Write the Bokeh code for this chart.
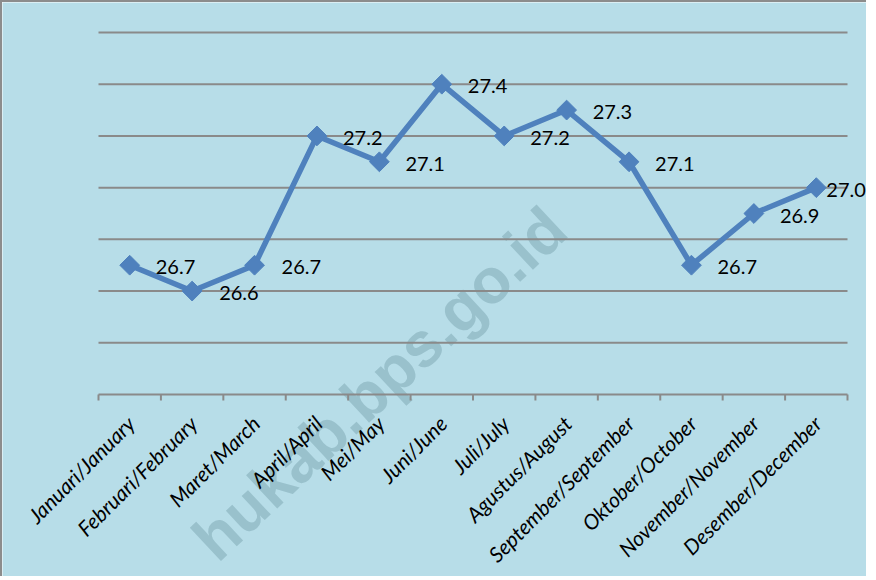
import numpy as np
from bokeh.plotting import figure
from bokeh.models import Range1d, Label, ColumnDataSource
from bokeh.core.properties import value
from bokeh.embed import file_html
from bokeh.resources import INLINE

# ---- data ----
months = ["Januari/January", "Februari/February", "Maret/March", "April/April",
          "Mei/May", "Juni/June", "Juli/July", "Agustus/August",
          "September/September", "Oktober/October", "November/November",
          "Desember/December"]
values = [26.7, 26.6, 26.7, 27.2, 27.1, 27.4, 27.2, 27.3, 27.1, 26.7, 26.9, 27.0]
value_labels = ["26.7", "26.6", "26.7", "27.2", "27.1", "27.4", "27.2", "27.3",
                "27.1", "26.7", "26.9", "27.0"]
y_grid_values = [26.2, 26.4, 26.6, 26.8, 27.0, 27.2, 27.4, 27.6]
y_min, y_max = 26.2, 27.6

# ---- layout / styles (canvas pixels) ----
CANVAS_W, CANVAS_H = 866, 576
PLOT_L, PLOT_R, PLOT_T, PLOT_B = 96, 845, 30, 392
TICK_LEN = 6
label_dx = [26, 27, 27, 26, 26, 26, 26, 26, 26, 26, 26, 10]
BG = "#B7DDE8"
GRID = "#8A8A8A"
LINE = "#4F81BD"
WATERMARK = "#99C1CC"

n = len(months)
centers = [i + 0.5 for i in range(n)]
boundaries = list(range(n + 1))

# ranges so that the data area sits at PLOT_* while the frame fills the canvas
ppx = (PLOT_R - PLOT_L) / n
ppy = (PLOT_B - PLOT_T) / (y_max - y_min)
x_start = -PLOT_L / ppx
x_end = x_start + CANVAS_W / ppx
y_end = y_max + PLOT_T / ppy
y_start = y_end - CANVAS_H / ppy


def px_to_data(cx, cy):
    return (cx - PLOT_L) / ppx, y_max - (cy - PLOT_T) / ppy


src = ColumnDataSource(dict(x=centers, y=values, lab=value_labels, dx=label_dx))
grid_src = ColumnDataSource(dict(y=y_grid_values))
tick_src = ColumnDataSource(dict(x=boundaries))
cat_src = ColumnDataSource(dict(x=centers, lab=months))

p = figure(width=CANVAS_W, height=CANVAS_H, output_backend="svg", toolbar_location=None,
           x_range=Range1d(x_start, x_end), y_range=Range1d(y_start, y_end),
           x_axis_type=None, y_axis_type=None,
           min_border=0, min_border_left=0, min_border_right=0,
           min_border_top=0, min_border_bottom=0)
p.styles = {"border-left": "2px solid #8C8C8C", "border-top": "2px solid #8C8C8C"}
p.background_fill_color = BG
p.border_fill_color = BG
p.outline_line_color = None
p.grid.visible = False

# watermark (behind everything)
wx, wy = px_to_data(224, 571)
p.add_layout(Label(x=wx, y=wy, text="hukab.bps.go.id", angle=np.deg2rad(43),
                   text_font="Liberation Sans", text_font_style="bold",
                   text_font_size="63px", text_color=WATERMARK, level="underlay"))

# horizontal gridlines (the lowest one is the category axis line)
p.segment(x0=0, x1=n, y0="y", y1="y", source=grid_src, line_color=GRID, line_width=2)
# category boundary ticks
p.segment(x0="x", x1="x", y0=y_min, y1=y_min - TICK_LEN / ppy, source=tick_src,
          line_color=GRID, line_width=2)
# category labels
p.text(x="x", y=y_min, text="lab", source=cat_src, angle=np.pi / 4,
       x_offset=1, y_offset=25, text_align="right", text_baseline="middle",
       text_font=value("Lato"), text_font_style="italic", text_font_size="21px",
       text_color="#000000")

# series
p.line("x", "y", source=src, line_color=LINE, line_width=5.5)
p.scatter("x", "y", source=src, marker="square", angle=np.pi / 4, size=14,
          fill_color=LINE, line_color=LINE)
p.text("x", "y", text="lab", source=src, x_offset="dx", y_offset=2,
       text_font=value("Lato"), text_font_size="20px", text_color="#000000",
       text_align="left", text_baseline="middle")

open("out.html", "w").write(file_html(p, INLINE))
